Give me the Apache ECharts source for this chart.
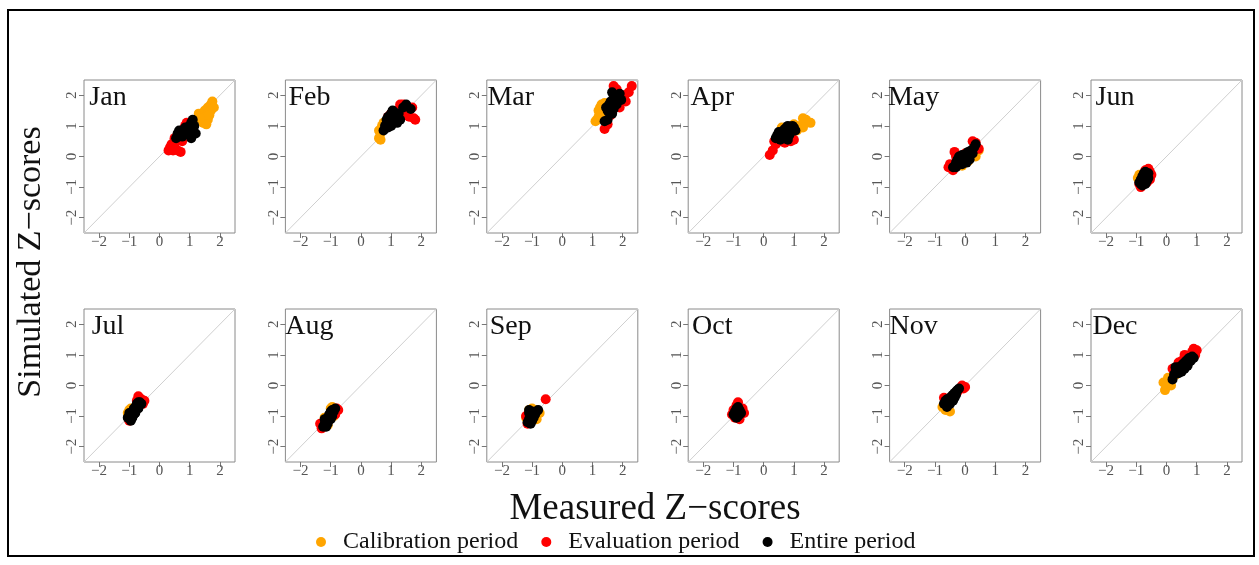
<!DOCTYPE html>
<html>
<head>
<meta charset="utf-8">
<script src="https://cdn.jsdelivr.net/npm/echarts@6/dist/echarts.min.js"></script>
<style>
html,body{margin:0;padding:0;background:#fff;}
#chart{width:1259px;height:565px;}
</style>
</head>
<body>
<div id="chart"></div>
<script>
// 月份
var months = ['Jan','Feb','Mar','Apr','May','Jun','Jul','Aug','Sep','Oct','Nov','Dec'];
var tickVals = [-2, -1, 0, 1, 2];
var axisRange = [-2.5, 2.5];
var legendNames = ['Calibration period', 'Evaluation period', 'Entire period'];

// 率定期 [measured, simulated]
var calibPts = [
    [[1.3,1.4],[1.4,1.2],[1.5,1.3],[1.5,1.5],[1.6,1.4],[1.6,1.6],[1.7,1.7],[1.75,1.8],[1.7,1.5],[1.6,1.2],[1.45,1.1],[1.55,1.05],[1.35,1.25],[1.8,1.6],[1.65,1.35]],
    [[0.6,0.6],[0.65,0.55],[0.6,0.85],[0.7,1.0],[0.65,0.75],[0.75,1.1],[0.8,0.95]],
    [[1.1,1.15],[1.2,1.3],[1.2,1.5],[1.3,1.7],[1.25,1.6],[1.35,1.4],[1.4,1.75],[1.15,1.2],[1.3,1.25]],
    [[0.6,0.95],[1.2,1.0],[1.3,1.25],[1.4,1.2],[1.55,1.1],[1.3,0.95],[1.1,0.85],[1.0,1.05]],
    [[0.2,0.0],[0.3,0.1],[0.45,0.2],[0.1,-0.15],[0.35,0.0],[-0.1,-0.3]],
    [[-0.95,-0.7],[-0.9,-0.6],[-0.85,-0.65]],
    [[-1.0,-0.8],[-0.95,-0.75],[-1.05,-0.9]],
    [[-0.95,-0.7],[-1.0,-0.75],[-0.85,-0.8],[-0.9,-1.0],[-1.1,-1.3],[-1.2,-1.05]],
    [[-1.1,-0.8],[-1.0,-0.75],[-0.9,-0.8],[-0.8,-0.85],[-0.75,-0.9],[-0.85,-1.1],[-1.2,-1.05]],
    [[-0.9,-0.8]],
    [[-0.75,-0.7],[-0.7,-0.65],[-0.6,-0.75],[-0.5,-0.85],[-0.65,-0.8],[-0.55,-0.6]],
    [[-0.05,-0.15],[0.0,0.05],[-0.1,0.1],[0.1,0.2],[0.15,0.0],[0.2,0.3],[0.3,0.35],[0.05,0.25]]
];

// 验证期
var evalPts = [
    [[0.3,0.2],[0.35,0.3],[0.4,0.4],[0.5,0.3],[0.6,0.2],[0.7,0.15],[0.55,0.5],[0.5,0.6],[0.65,0.7],[0.8,0.9],[0.85,1.0],[0.9,1.1],[0.75,0.5],[0.45,0.2],[0.95,1.05]],
    [[1.8,1.2],[1.7,1.6],[1.5,1.5],[1.4,1.7],[1.2,1.5],[1.1,1.2],[1.6,1.3],[1.3,1.7],[0.9,1.3],[1.0,1.4],[1.45,1.35],[1.75,1.25]],
    [[1.4,0.9],[1.5,1.05],[2.3,2.3],[2.2,2.1],[2.1,1.8],[2.0,2.0],[1.7,2.3],[1.8,2.2],[1.9,1.6],[2.05,1.95],[1.6,1.35]],
    [[0.2,0.05],[0.3,0.2],[0.4,0.4],[0.35,0.5],[0.6,0.5],[0.9,0.5],[1.0,0.55],[0.5,0.6],[0.7,0.45]],
    [[-0.55,-0.35],[-0.5,-0.25],[-0.35,0.15],[-0.3,0.0],[-0.4,-0.45],[0.25,0.5],[0.35,0.45],[0.45,0.25],[0.3,0.25],[0.0,0.1],[-0.2,-0.05]],
    [[-0.85,-1.0],[-0.9,-0.9],[-0.6,-0.4],[-0.55,-0.5],[-0.5,-0.6],[-0.55,-0.75],[-0.65,-0.85],[-0.7,-0.45]],
    [[-0.7,-0.35],[-0.6,-0.45],[-0.5,-0.5],[-0.55,-0.6],[-0.75,-0.5],[-1.0,-1.15]],
    [[-1.35,-1.25],[-1.3,-1.4],[-1.25,-1.3],[-0.75,-0.8],[-0.8,-0.75],[-0.85,-0.95]],
    [[-0.55,-0.45],[-1.2,-1.0],[-1.15,-1.25]],
    [[-1.05,-0.95],[-0.85,-0.55],[-0.7,-0.75],[-0.65,-0.9],[-0.8,-1.1],[-0.95,-1.05],[-1.0,-0.8],[-0.9,-0.65]],
    [[-0.05,-0.1],[-0.1,0.0],[0.0,-0.05],[-0.25,-0.2],[-0.6,-0.5],[-0.7,-0.4]],
    [[0.9,1.2],[1.0,1.15],[0.95,1.0],[0.8,0.95],[0.6,1.0],[0.5,0.8],[0.4,0.75],[0.2,0.55],[0.85,1.1]]
];

// 全时段
var entirePts = [
    [[0.55,0.6],[0.6,0.75],[0.7,0.8],[0.75,0.65],[0.8,0.7],[0.9,0.85],[0.95,0.9],[1.0,1.0],[1.05,1.1],[1.1,1.2],[1.15,1.0],[1.1,0.8],[1.05,0.6],[1.2,0.75],[1.0,0.7],[0.85,0.95],[0.65,0.85]],
    [[0.75,0.85],[0.8,1.0],[0.85,1.2],[0.9,1.3],[0.95,1.15],[1.0,1.4],[1.05,1.5],[1.1,1.45],[1.15,1.3],[1.2,1.1],[1.3,1.2],[1.4,1.6],[1.5,1.7],[1.65,1.55],[1.0,1.0],[0.9,0.95],[1.25,1.4]],
    [[1.4,1.15],[1.5,1.2],[1.5,1.5],[1.55,1.7],[1.6,1.8],[1.65,2.1],[1.7,2.0],[1.75,1.9],[1.8,1.7],[1.85,1.95],[1.9,2.05],[1.7,1.55],[1.6,1.6],[1.95,1.85],[1.45,1.6],[1.65,1.4]],
    [[0.4,0.6],[0.45,0.7],[0.5,0.8],[0.6,0.75],[0.65,0.85],[0.7,0.9],[0.75,0.95],[0.8,1.0],[0.85,0.9],[0.9,0.8],[0.95,1.0],[1.0,0.95],[0.7,0.6],[0.8,0.55],[0.55,0.55],[1.05,0.85],[0.85,0.7]],
    [[-0.4,-0.35],[-0.3,-0.2],[-0.25,-0.1],[-0.2,0.0],[-0.1,0.05],[0.0,-0.05],[0.05,0.1],[0.1,0.15],[0.2,0.2],[0.3,0.3],[0.35,0.4],[0.15,-0.1],[-0.1,-0.25],[-0.3,-0.35],[0.05,-0.2],[0.25,0.1]],
    [[-0.9,-0.85],[-0.85,-0.75],[-0.8,-0.65],[-0.75,-0.55],[-0.7,-0.5],[-0.65,-0.6],[-0.6,-0.55],[-0.6,-0.7],[-0.65,-0.8],[-0.7,-0.9],[-0.8,-0.95],[-0.75,-0.7],[-0.85,-0.9],[-0.7,-0.75]],
    [[-1.05,-1.05],[-1.0,-1.0],[-0.95,-0.9],[-0.9,-0.85],[-0.85,-0.75],[-0.8,-0.7],[-0.75,-0.6],[-0.7,-0.55],[-0.65,-0.55],[-0.6,-0.6],[-0.7,-0.75],[-0.8,-0.9],[-0.9,-1.05],[-0.95,-1.15],[-1.0,-0.9],[-0.85,-0.95]],
    [[-1.25,-1.35],[-1.2,-1.25],[-1.15,-1.15],[-1.1,-1.05],[-1.05,-0.95],[-1.0,-0.85],[-0.95,-0.8],[-0.9,-0.85],[-0.85,-0.75],[-1.1,-1.25],[-1.15,-1.35],[-1.0,-1.1],[-0.95,-1.0],[-1.2,-1.1]],
    [[-1.15,-1.2],[-1.1,-1.1],[-1.05,-1.0],[-1.1,-0.9],[-1.0,-0.85],[-0.95,-0.9],[-0.9,-0.95],[-0.85,-0.85],[-0.8,-0.8],[-1.0,-1.15],[-1.05,-1.25],[-0.95,-1.05],[-1.1,-0.8]],
    [[-1.0,-0.95],[-0.95,-0.85],[-0.9,-0.75],[-0.85,-0.7],[-0.8,-0.8],[-0.75,-0.9],[-0.85,-1.0],[-0.9,-1.05],[-0.95,-1.0],[-0.8,-0.95],[-0.85,-0.85],[-0.9,-0.9]],
    [[-0.7,-0.6],[-0.65,-0.5],[-0.6,-0.45],[-0.55,-0.5],[-0.5,-0.4],[-0.45,-0.35],[-0.4,-0.3],[-0.35,-0.25],[-0.3,-0.2],[-0.25,-0.15],[-0.2,-0.1],[-0.5,-0.6],[-0.45,-0.5],[-0.35,-0.4],[-0.3,-0.3],[-0.6,-0.7],[-0.4,-0.5]],
    [[0.2,0.2],[0.25,0.35],[0.3,0.45],[0.35,0.5],[0.4,0.6],[0.45,0.55],[0.5,0.65],[0.55,0.7],[0.6,0.75],[0.65,0.8],[0.7,0.85],[0.75,0.9],[0.8,0.8],[0.85,0.95],[0.9,0.9],[0.6,0.55],[0.4,0.4],[0.3,0.6],[0.7,0.65],[0.5,0.45]]
];

var SERIF = 'Liberation Serif';
var colors = ['#FFA500', '#FF0000', '#000000'];

// 面板位置
var panelLeft0 = 84, panelStep = 201.4, panelW = 151, panelH = 153;
var rowTops = [80, 309];

function minusFmt(v) {
    return v < 0 ? '\u2212' + (-v) : String(v);
}

var grids = [], xAxes = [], yAxes = [], series = [], graphics = [];

months.forEach(function (m, i) {
    var col = i % 6, row = Math.floor(i / 6);
    var left = panelLeft0 + col * panelStep;
    var top = rowTops[row];
    grids.push({
        left: left, top: top, width: panelW, height: panelH,
        show: true, borderColor: '#8a8a8a', borderWidth: 1,
        backgroundColor: 'transparent'
    });
    var axisCommon = {
        type: 'value', gridIndex: i,
        min: axisRange[0], max: axisRange[1],
        axisLine: {show: false, onZero: false},
        splitLine: {show: false},
        axisTick: {show: true, inside: false, length: 5, customValues: tickVals,
            lineStyle: {color: '#777', width: 1}},
        axisLabel: {show: true, customValues: tickVals, formatter: minusFmt,
            color: '#555', fontFamily: SERIF, fontSize: 15, margin: 2}
    };
    xAxes.push(echarts.util.merge({position: 'bottom'}, axisCommon, true));
    var ya = echarts.util.merge({position: 'left'}, axisCommon, true);
    ya.axisLabel = echarts.util.merge({rotate: 90, margin: 4}, axisCommon.axisLabel, false);
    yAxes.push(ya);

    // 1:1 线
    series.push({
        type: 'line', xAxisIndex: i, yAxisIndex: i,
        data: [[axisRange[0], axisRange[0]], [axisRange[1], axisRange[1]]],
        symbol: 'none', silent: true, z: 1,
        lineStyle: {color: '#cfcfcf', width: 1}
    });
    [calibPts, evalPts, entirePts].forEach(function (pts, k) {
        series.push({
            name: legendNames[k], type: 'scatter',
            xAxisIndex: i, yAxisIndex: i,
            data: pts[i], symbolSize: 10, z: 2 + k,
            itemStyle: {color: colors[k], opacity: 1}
        });
    });

    // 月份标签
    graphics.push({
        type: 'text', x: left + 24, y: top + 18, z: 10,
        style: {text: m, fontFamily: SERIF, fontSize: 28, fill: '#111',
            textAlign: 'center', textVerticalAlign: 'middle'}
    });
});

graphics.push({
    type: 'rect', shape: {x: 8, y: 10, width: 1246, height: 546},
    style: {fill: 'none', stroke: '#000', lineWidth: 2}, silent: true
});
graphics.push({
    type: 'text', x: 31, y: 262, rotation: Math.PI / 2,
    style: {text: 'Simulated Z\u2212scores', fontFamily: SERIF, fontSize: 34, fill: '#111',
        textAlign: 'center', textVerticalAlign: 'middle'}
});
graphics.push({
    type: 'text', x: 655, y: 509,
    style: {text: 'Measured Z\u2212scores', fontFamily: SERIF, fontSize: 37, fill: '#111',
        textAlign: 'center', textVerticalAlign: 'middle'}
});

var option = {
    animation: false,
    backgroundColor: '#fff',
    grid: grids,
    xAxis: xAxes,
    yAxis: yAxes,
    legend: {
        data: legendNames.map(function (n) { return {name: n, icon: 'circle'}; }),
        left: 311, top: 525,
        itemWidth: 10, itemHeight: 10, itemGap: 23,
        textStyle: {fontFamily: SERIF, fontSize: 24, color: '#111', padding: [0, 0, 0, 12]},
        selectedMode: false
    },
    graphic: graphics,
    series: series
};

var chart = echarts.init(document.getElementById('chart'));
chart.setOption(option);
</script>
</body>
</html>
